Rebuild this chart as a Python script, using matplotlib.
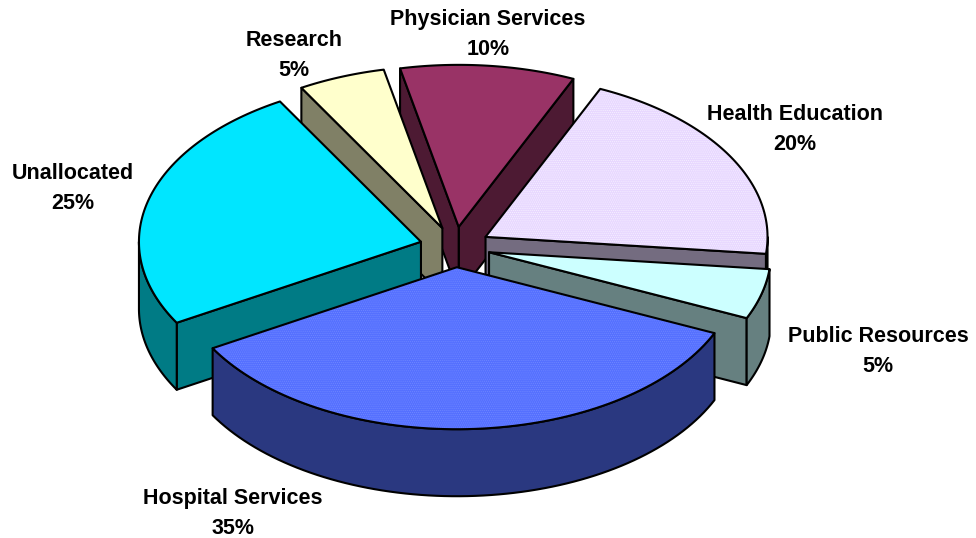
import numpy as np
import matplotlib
matplotlib.use('Agg')
import matplotlib.pyplot as plt
from matplotlib.patches import Polygon

# Gia tri cac phan, theo chieu nguoc kim dong ho tu Physician Services
categories = ['Physician Services', 'Research', 'Unallocated', 'Hospital Services', 'Public Resources', 'Health Education']
shares = [10, 5, 25, 35, 5, 20]
top_colors = ['#993366', '#FFFFCC', '#00E6FF', '#5570FF', '#CCFFFF', '#E8D8FF']
side_colors = ['#4D1A33', '#808066', '#007B85', '#2A3880', '#668080', '#746C80']
dot_colors = [None, None, None, '#7F95FF', None, '#FFFFFF']
label_xy = [(488, 34.5), (294, 55.5), (73, 188.5), (233, 513.5), (878, 351.5), (795, 129.5)]

# thu tu ve: phan o sau ve truoc
draw_order = [0, 1, 2, 5, 4, 3]

START = 66.0
CX, CY = 455, 247
RX, RY = 282, 162
EXPLODE = 0.125
DEPTH = 67

plt.rcParams['font.family'] = ['Liberation Sans', 'DejaVu Sans']
plt.rcParams['hatch.linewidth'] = 0.5

fig = plt.figure(figsize=(9.76, 5.38), dpi=100)
ax = fig.add_axes([0, 0, 1, 1])
ax.set_xlim(0, 976)
ax.set_ylim(538, 0)
ax.axis('off')

edges = START + np.cumsum([0] + shares) * 3.6


def rim(ox, oy, a0, a1):
    t = np.radians(np.linspace(a0, a1, 80))
    return np.column_stack([ox + RX * np.cos(t), oy - RY * np.sin(t)])


def face(pts, color, z, dots=None):
    ax.add_patch(Polygon(pts, closed=True, facecolor=color, edgecolor='none', zorder=z))
    if dots:
        ax.add_patch(Polygon(pts, closed=True, facecolor='none', edgecolor=dots,
                             linewidth=0, hatch='........', alpha=0.6, zorder=z))
    ax.add_patch(Polygon(pts, closed=True, facecolor='none', edgecolor='black',
                         linewidth=1.5, joinstyle='round', zorder=z))


for z, i in enumerate(draw_order):
    a0, a1 = edges[i], edges[i + 1]
    mid = np.radians((a0 + a1) / 2)
    ox = CX + EXPLODE * RX * np.cos(mid)
    oy = CY - EXPLODE * RY * np.sin(mid)
    arc = rim(ox, oy, a0, a1)
    low = arc + [0, DEPTH]
    apex = np.array([[ox, oy]])
    apex_low = apex + [0, DEPTH]

    # chi ve mat ben quay ve phia nguoi xem
    if np.cos(np.radians(a0)) > 0:
        face(np.vstack([apex, arc[:1], low[:1], apex_low]), side_colors[i], z * 3)
    if np.cos(np.radians(a1)) < 0:
        face(np.vstack([apex, arc[-1:], low[-1:], apex_low]), side_colors[i], z * 3)

    # vanh ngoai: phan nua duoi cua elip
    lo, hi = max(a0, 180), min(a1, 360)
    if lo < hi:
        front = rim(ox, oy, lo, hi)
        face(np.vstack([front, (front + [0, DEPTH])[::-1]]), side_colors[i], z * 3 + 1)
    face(np.vstack([apex, arc]), top_colors[i], z * 3 + 2, dot_colors[i])

for i, name in enumerate(categories):
    ax.text(label_xy[i][0], label_xy[i][1], f'{name}\n{shares[i]}%', ha='center', va='center',
            fontsize=15.5, fontweight='bold', color='black', linespacing=1.55, zorder=50)

plt.savefig('out.png', dpi=100)
plt.close()
